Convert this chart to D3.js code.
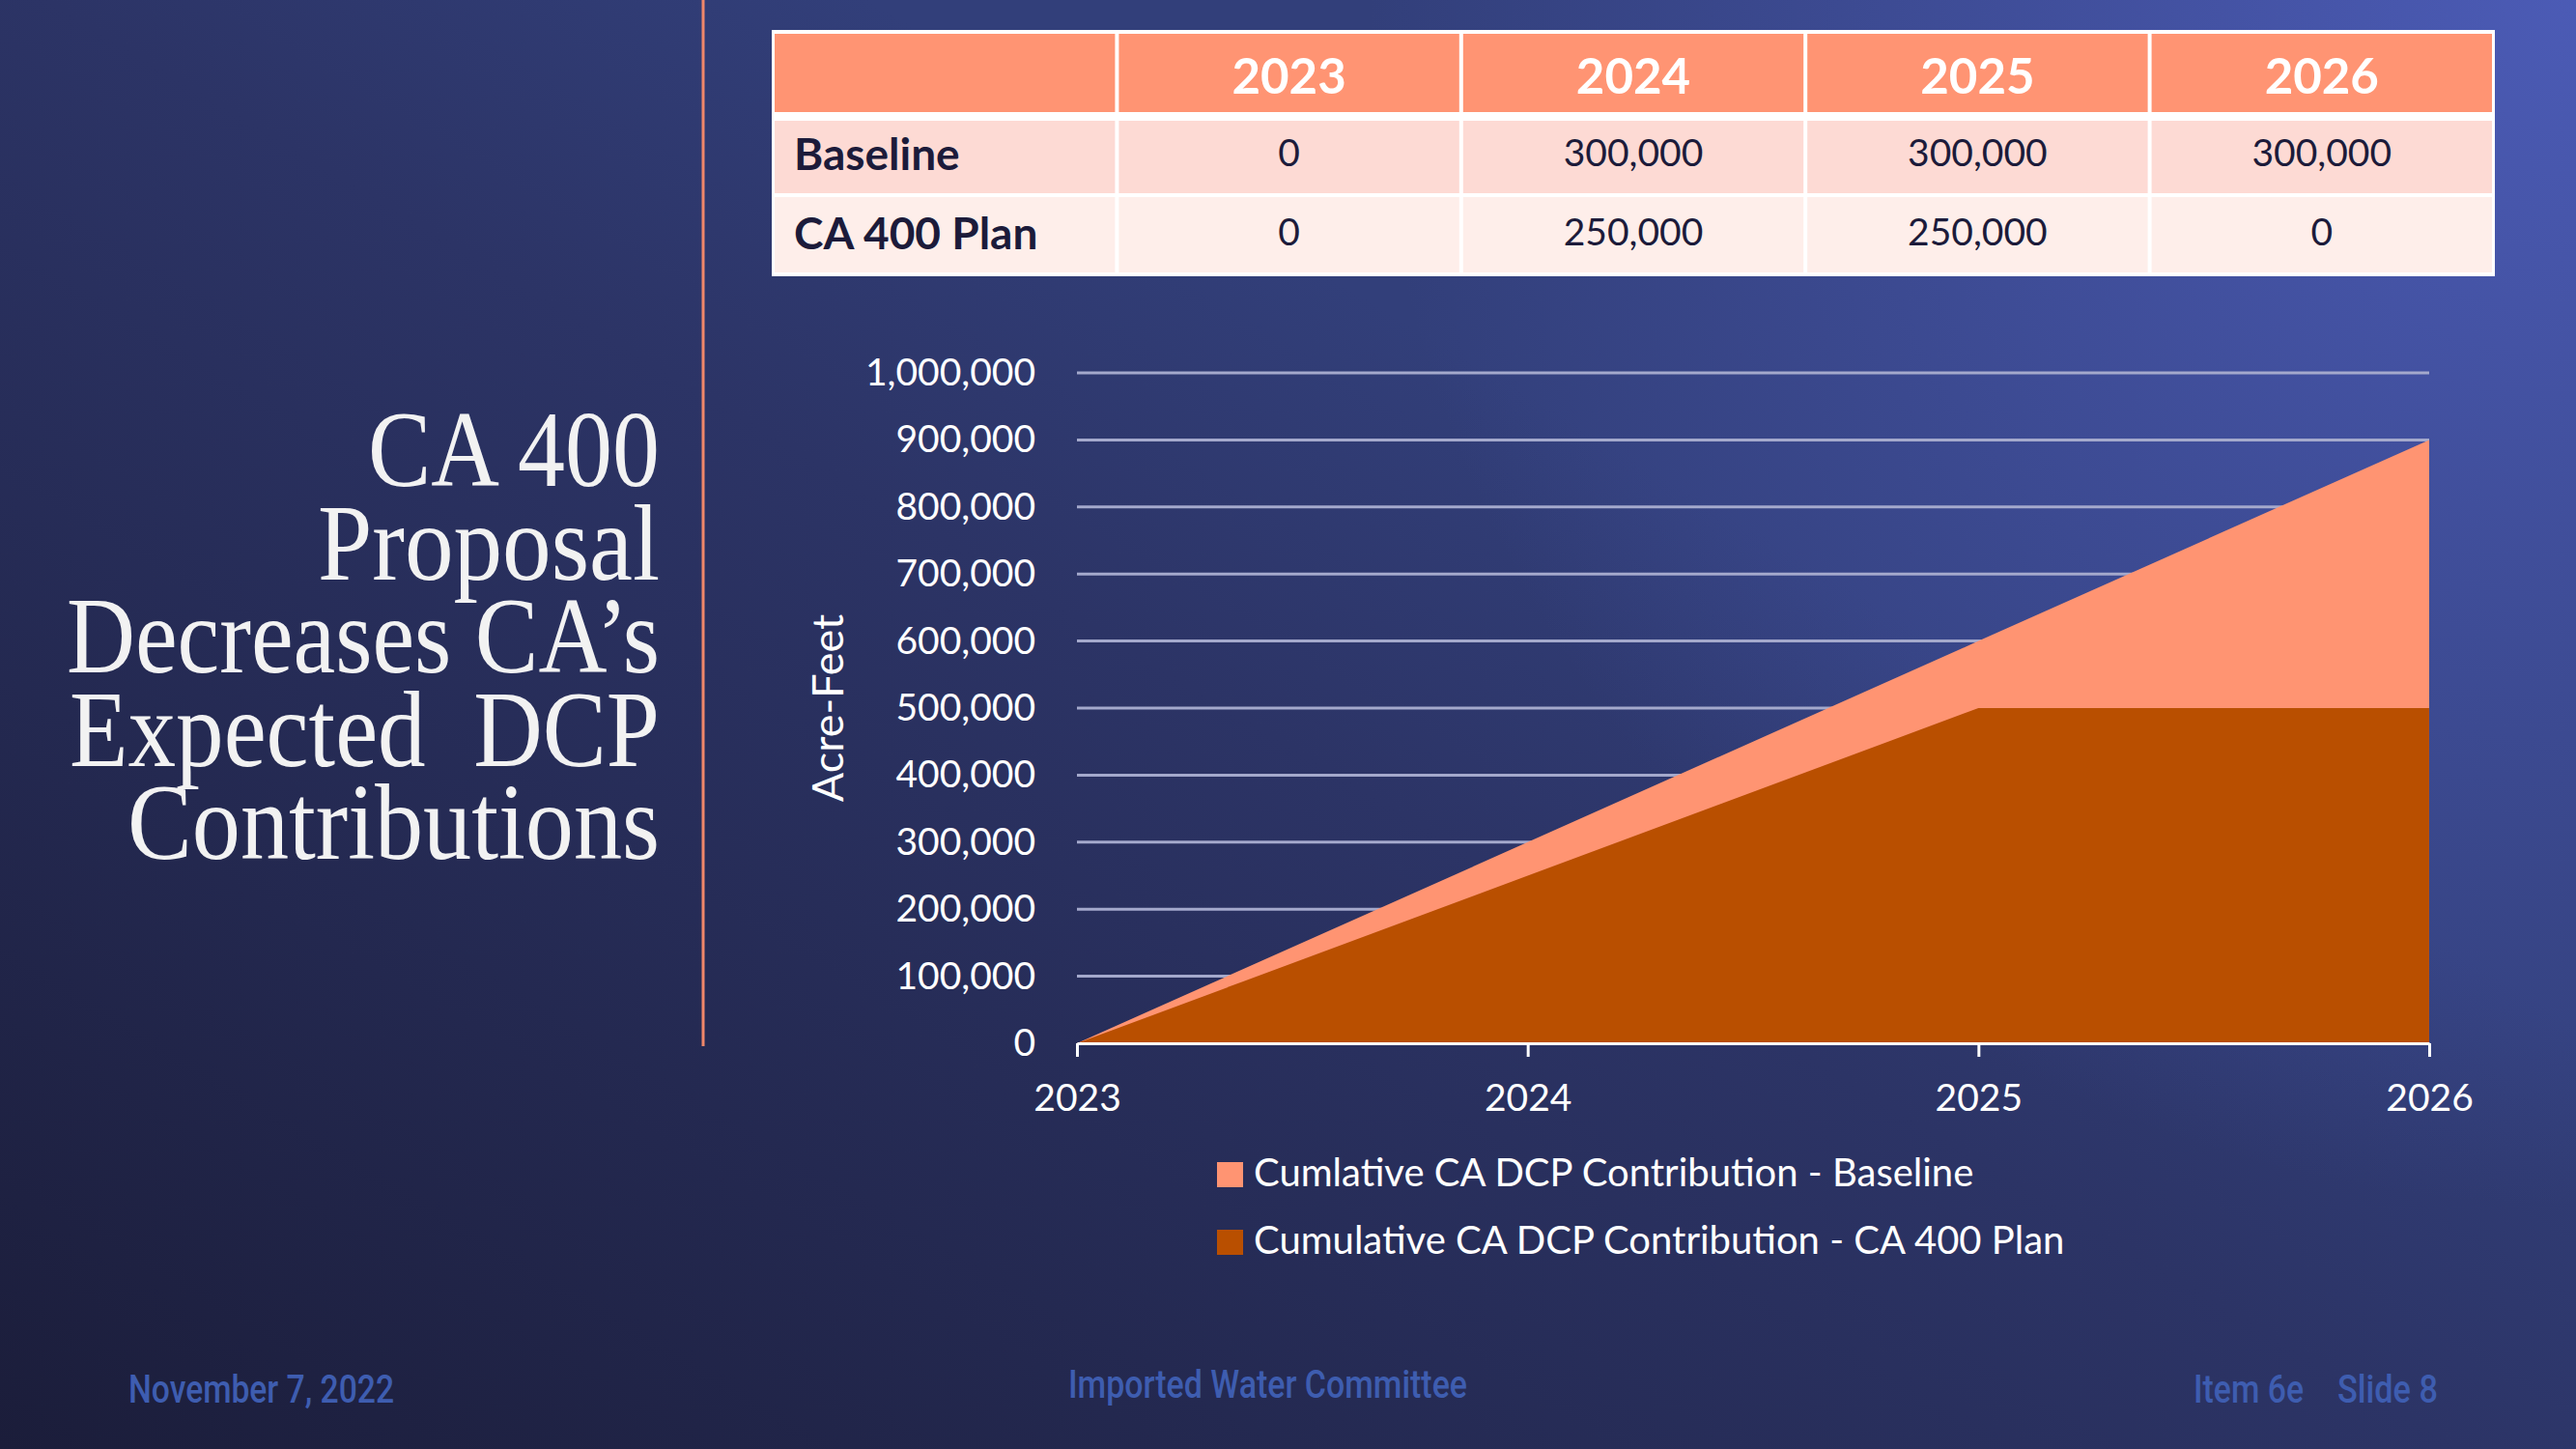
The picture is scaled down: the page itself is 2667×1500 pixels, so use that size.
<!DOCTYPE html>
<html>
<head>
<meta charset="utf-8">
<script src="https://cdn.jsdelivr.net/npm/d3@7"></script>
<style>
  html, body { margin: 0; padding: 0; background: #262b55; overflow: hidden; }
  svg { display: block; }
  .title { white-space: pre; }
</style>
</head>
<body>
<div id="slide"></div>
<script>

// table + chart data
const years = [2023, 2024, 2025, 2026];
const rowLabels = ["Baseline", "CA 400 Plan"];
const baselineAnnual = [0, 300000, 300000, 300000];
const planAnnual = [0, 250000, 250000, 0];
const baselineCumulative = [0, 300000, 600000, 900000];
const planCumulative = [0, 250000, 500000, 500000];
const yTicks = [0, 100000, 200000, 300000, 400000, 500000, 600000, 700000, 800000, 900000, 1000000];
const seriesNames = ["Cumlative CA DCP Contribution - Baseline", "Cumulative CA DCP Contribution - CA 400 Plan"];
const seriesColors = ["#ff9472", "#b94f00"];
const titleLines = ["CA 400", "Proposal", "Decreases CA’s", "Expected  DCP", "Contributions"];
const titleWidths = [302, 354, 614, 611, 551];
const yLabel = "Acre-Feet";
const footer = [
    {text: "November 7, 2022", x: 133, y: 1452, w: 275},
    {text: "Imported Water Committee", x: 1106, y: 1447, w: 413},
    {text: "Item 6e", x: 2271, y: 1452, w: 114},
    {text: "Slide 8", x: 2420, y: 1452, w: 104}
];

let width = 2667;
let height = 1500;

let svg = d3.select("#slide")
    .append("svg")
    .attr("width", width)
    .attr("height", height);

// background
let defs = svg.append("defs");
let lin = defs.append("linearGradient")
    .attr("id", "bg")
    .attr("gradientUnits", "userSpaceOnUse")
    .attr("x1", 0).attr("y1", 1500)
    .attr("x2", 900).attr("y2", 0);
lin.append("stop").attr("offset", 0).attr("stop-color", "#1b1d3a");
lin.append("stop").attr("offset", 0.75).attr("stop-color", "#2c3466");
lin.append("stop").attr("offset", 1).attr("stop-color", "#323f7a");

let glow = defs.append("radialGradient")
    .attr("id", "glow")
    .attr("gradientUnits", "userSpaceOnUse")
    .attr("cx", 2667).attr("cy", 0).attr("r", 1250);
glow.append("stop").attr("offset", 0).attr("stop-color", "#5060c0").attr("stop-opacity", 0.85);
glow.append("stop").attr("offset", 1).attr("stop-color", "#5060c0").attr("stop-opacity", 0);

svg.append("rect").attr("width", width).attr("height", height).attr("fill", "url(#bg)");
svg.append("rect").attr("width", width).attr("height", height).attr("fill", "url(#glow)");

// title
svg.append("line")
    .attr("x1", 728).attr("x2", 728)
    .attr("y1", 0).attr("y2", 1083)
    .attr("stroke", "#f0876a")
    .attr("stroke-width", 3);

svg.append("text")
    .attr("class", "title")
    .attr("text-anchor", "end")
    .attr("font-family", "Liberation Serif, DejaVu Serif, serif")
    .attr("font-size", 113)
    .attr("fill", "#f2f2f2")
    .selectAll("tspan")
    .data(titleLines)
    .join("tspan")
    .attr("x", 683)
    .attr("y", (d, i) => 503 + i * 96.5)
    .attr("textLength", (d, i) => titleWidths[i])
    .attr("lengthAdjust", "spacingAndGlyphs")
    .text(d => d);

// table
const columns = ["label"].concat(years);
let colX = d3.scaleBand()
    .domain(columns)
    .range([800, 2582]);

const rowTop = [35, 125, 204];
const rowBottom = [116, 200, 282];

let table = svg.append("g").attr("font-family", "Lato, sans-serif");

table.append("rect")
    .attr("x", 799).attr("y", 31)
    .attr("width", 1784).attr("height", 255)
    .attr("fill", "#ffffff");

// header
table.selectAll("rect.head")
    .data(columns)
    .join("rect")
    .attr("class", "head")
    .attr("x", d => colX(d) + 2)
    .attr("y", rowTop[0])
    .attr("width", colX.bandwidth() - 4)
    .attr("height", rowBottom[0] - rowTop[0])
    .attr("fill", "#ff9473");

table.selectAll("text.head")
    .data(years)
    .join("text")
    .attr("class", "head")
    .attr("x", d => colX(d) + colX.bandwidth() / 2)
    .attr("y", 97)
    .attr("text-anchor", "middle")
    .attr("font-weight", 700)
    .attr("font-size", 51)
    .attr("fill", "#ffffff")
    .text(d => d);

const rowValues = [baselineAnnual, planAnnual];
const rowFills = ["#fddad4", "#feeeea"];

rowLabels.forEach((label, r) => {
    let top = rowTop[r + 1];
    let bottom = rowBottom[r + 1];

    table.append("g")
        .selectAll("rect")
        .data(columns)
        .join("rect")
        .attr("x", d => colX(d) + 2)
        .attr("y", top)
        .attr("width", colX.bandwidth() - 4)
        .attr("height", bottom - top)
        .attr("fill", rowFills[r]);

    table.append("text")
        .attr("x", 822)
        .attr("y", bottom - 24)
        .attr("font-weight", 700)
        .attr("font-size", 46)
        .attr("fill", "#1c1b3a")
        .text(label);

    table.append("g")
        .selectAll("text")
        .data(rowValues[r])
        .join("text")
        .attr("x", (d, i) => colX(years[i]) + colX.bandwidth() / 2)
        .attr("y", bottom - 28)
        .attr("text-anchor", "middle")
        .attr("font-size", 39)
        .attr("fill", "#1c1b3a")
        .text(d => d3.format(",")(d));
});

// chart
let scaleX = d3.scaleLinear()
    .domain(d3.extent(years))
    .range([1115, 2515]);

let scaleY = d3.scaleLinear()
    .domain([0, 1000000])
    .range([1080, 386]);

let chart = svg.append("g").attr("font-family", "Lato, sans-serif");

chart.append("g")
    .selectAll("line")
    .data(yTicks.slice(1))
    .join("line")
    .attr("x1", scaleX(2023))
    .attr("x2", scaleX(2026))
    .attr("y1", d => scaleY(d))
    .attr("y2", d => scaleY(d))
    .attr("stroke", "#a4a9cc")
    .attr("stroke-width", 3);

let area = d3.area()
    .x((d, i) => scaleX(years[i]))
    .y0(scaleY(0))
    .y1(d => scaleY(d));

chart.selectAll("path.series")
    .data([baselineCumulative, planCumulative])
    .join("path")
    .attr("class", "series")
    .attr("d", area)
    .attr("fill", (d, i) => seriesColors[i]);

let xAxis = chart.append("g")
    .attr("transform", "translate(0," + scaleY(0) + ")")
    .call(d3.axisBottom(scaleX)
        .tickValues(years)
        .tickFormat(d3.format("d"))
        .tickSize(14)
        .tickSizeOuter(0)
        .tickPadding(28));
xAxis.select(".domain").attr("stroke", "#ffffff").attr("stroke-width", 3);
xAxis.selectAll(".tick line").attr("stroke", "#ffffff").attr("stroke-width", 3);
xAxis.selectAll(".tick text")
    .attr("fill", "#ffffff")
    .attr("font-size", 39)
    .attr("font-family", "Lato, sans-serif");

let yAxis = chart.append("g")
    .attr("transform", "translate(" + scaleX(2023) + ",0)")
    .call(d3.axisLeft(scaleY)
        .tickValues(yTicks)
        .tickFormat(d3.format(","))
        .tickSize(0)
        .tickPadding(43));
yAxis.select(".domain").remove();
yAxis.selectAll(".tick text")
    .attr("fill", "#ffffff")
    .attr("font-size", 39)
    .attr("font-family", "Lato, sans-serif");

chart.append("text")
    .attr("transform", "translate(873,733) rotate(-90)")
    .attr("text-anchor", "middle")
    .attr("font-size", 45)
    .attr("fill", "#ffffff")
    .text(yLabel);

// legend
let legend = chart.append("g")
    .selectAll("g")
    .data(seriesNames)
    .join("g")
    .attr("transform", (d, i) => "translate(1260," + (1203 + i * 70) + ")");
legend.append("rect")
    .attr("width", 27)
    .attr("height", 26)
    .attr("fill", (d, i) => seriesColors[i]);
legend.append("text")
    .attr("x", 38)
    .attr("y", 25)
    .attr("font-size", 40)
    .attr("fill", "#ffffff")
    .text(d => d);

// footer
svg.append("g")
    .selectAll("text")
    .data(footer)
    .join("text")
    .attr("x", d => d.x)
    .attr("y", d => d.y)
    .attr("font-family", "Roboto, sans-serif")
    .attr("font-weight", 500)
    .attr("font-size", 40)
    .attr("fill", "#3e5db0")
    .attr("textLength", d => d.w)
    .attr("lengthAdjust", "spacingAndGlyphs")
    .text(d => d.text);

</script>
</body>
</html>
